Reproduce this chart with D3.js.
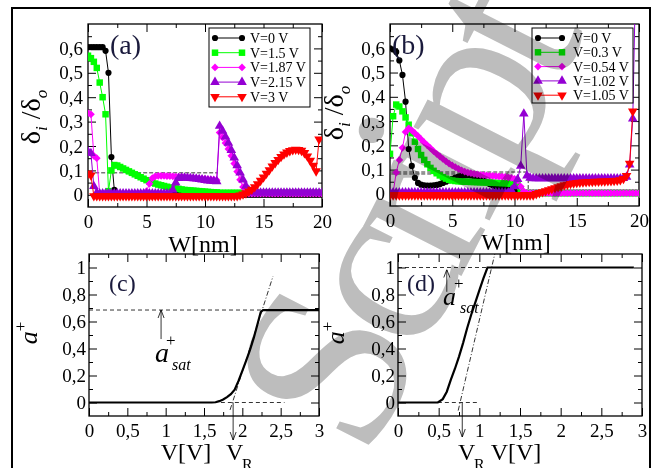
<!DOCTYPE html>
<html>
<head>
<meta charset="UTF-8">
<script src="https://d3js.org/d3.v7.min.js"></script>
<style>
  body { margin: 0; background: #fff; }
  svg text { font-family: "Liberation Serif", "Times New Roman", serif; fill: #000; }
</style>
</head>
<body>
<svg></svg>
<script>
// ---- data ----
// W grid (nm) for panels (a) and (b)
const wGrid = [0,0.25,0.5,0.75,1,1.25,1.5,1.75,2,2.25,2.5,2.75,3,3.25,3.5,3.75,4,4.25,4.5,4.75,
  5,5.25,5.5,5.75,6,6.25,6.5,6.75,7,7.25,7.5,7.75,8,8.25,8.5,8.75,9,9.25,9.5,9.75,
  10,10.25,10.5,10.75,11,11.25,11.5,11.75,12,12.25,12.5,12.75,13,13.25,13.5,13.75,14,14.25,14.5,14.75,
  15,15.25,15.5,15.75,16,16.25,16.5,16.75,17,17.25,17.5,17.75,18,18.25,18.5,18.75,19,19.25,19.5,19.75,20];

// panel (a): delta_i/delta_o
const aV0 = [0.605,0.605,0.605,0.605,0.605,0.605,0.59,0.5,0.155,0.02,
  0,0,0,0,0,0,0,0,0,0, 0,0,0,0,0,0,0,0,0,0, 0,0,0,0,0,0,0,0,0,0,
  0,0,0,0,0,0,0,0,0,0, 0,0,0,0,0,0,0,0,0,0, 0,0,0,0,0,0,0,0,0,0,
  0,0,0,0,0,0,0,0,0,0, 0];
const aV15 = [0.57,0.56,0.545,0.52,0.46,0.4,0.33,0.015,0.1,0.122,
  0.12,0.114,0.108,0.102,0.096,0.09,0.084,0.078,0.072,0.066,
  0.06,0.055,0.05,0.046,0.042,0.039,0.036,0.033,0.03,0.028,
  0.026,0.024,0.022,0.02,0.019,0.018,0.017,0.016,0.015,0.014,
  0.013,0.012,0.011,0.01,0.01,0.008,0.008,0.008,0.008,0.008,
  0.008,0.008,0.008,0.008,0.008,0.008,0.008,0.008,0.008,0.008,
  0.008,0.008,0.008,0.008,0.008,0.008,0.008,0.008,0.008,0.008,
  0.008,0.008,0.008,0.008,0.008,0.008,0.008,0.008,0.008,0.008, 0.008];
const aV187 = [0.335,0.33,0.16,0.15,0.005,0.003,0.003,0.003,0.003,0.003,
  0.003,0.003,0.003,0.003,0.003,0.003,0.003,0.003,0.003,0.003,
  0.015,0.045,0.068,0.076,0.078,0.078,0.078,0.077,0.077,0.076,
  0.075,0.074,0.073,0.072,0.071,0.07,0.069,0.068,0.067,0.066,
  0.065,0.064,0.063,0.062,0.06,0.255,0.235,0.212,0.188,0.16,
  0.128,0.095,0.062,0.032,0.012,0.005,0.005,0.005,0.005,0.005,
  0.005,0.005,0.005,0.005,0.005,0.005,0.005,0.005,0.005,0.005,
  0.005,0.005,0.005,0.005,0.005,0.005,0.005,0.005,0.005,0.005, 0.005];
const aV215 = [0.177,0.17,0.035,0.008,0.005,0.005,0.005,0.005,0.005,0.005,
  0.005,0.005,0.005,0.005,0.005,0.005,0.005,0.005,0.005,0.005,
  0.005,0.005,0.005,0.005,0.005,0.005,0.005,0.005,0.005,0.02,
  0.05,0.068,0.07,0.07,0.069,0.068,0.067,0.066,0.064,0.062,
  0.06,0.058,0.057,0.056,0.055,0.282,0.262,0.238,0.212,0.183,
  0.152,0.12,0.09,0.062,0.036,0.018,0.01,0.008,0.008,0.008,
  0.008,0.008,0.008,0.008,0.008,0.008,0.008,0.008,0.008,0.008,
  0.008,0.008,0.008,0.008,0.008,0.008,0.008,0.008,0.008,0.008, 0.008];
const aV3 = [0.088,0.08,-0.005,-0.005,-0.005,-0.005,-0.005,-0.005,-0.005,-0.005,
  -0.005,-0.005,-0.005,-0.005,-0.005,-0.005,-0.005,-0.005,-0.005,-0.005,
  -0.005,-0.005,-0.005,-0.005,-0.005,-0.005,-0.005,-0.005,-0.005,-0.005,
  -0.005,-0.005,-0.005,-0.005,-0.005,-0.005,-0.005,-0.005,-0.005,-0.005,
  -0.005,-0.005,-0.005,-0.005,-0.005,-0.005,-0.005,-0.005,-0.005,-0.005,
  -0.005,-0.005,-0.002,0.002,0.007,0.014,0.022,0.032,0.044,0.058,
  0.072,0.087,0.102,0.117,0.131,0.144,0.156,0.166,0.174,0.18,
  0.184,0.186,0.185,0.181,0.172,0.158,0.14,0.12,0.097,0.228];

// panel (b)
const bV0 = [0.6,0.595,0.585,0.55,0.49,0.38,0.185,0.115,0.066,0.045,
  0.038,0.035,0.034,0.034,0.035,0.037,0.04,0.045,0.05,0.056,
  0.062,0.067,0.071,0.074,0.076,0.077,0.076,0.073,0.068,0.062,
  0.055,0.048,0.041,0.035,0.03,0.027,0.025,0.023,0.021,0.017,
  0.012,0.005,0.005,0.005,0.005,0.005,0.005,0.005,0.005,0.005,
  0.005,0.005,0.005,0.005,0.005,0.005,0.005,0.005,0.005,0.005,
  0.005,0.005,0.005,0.005,0.005,0.005,0.005,0.005,0.005,0.005,
  0.005,0.005,0.005,0.005,0.005,0.005,0.005,0.005,0.005,0.005, 0.005];
const bV03 = [0.165,0.32,0.368,0.36,0.34,0.315,0.285,0.25,0.215,0.185,
  0.16,0.14,0.122,0.107,0.095,0.085,0.076,0.069,0.063,0.058,
  0.055,0.053,0.052,0.051,0.05,0.05,0.049,0.049,0.048,0.048,
  0.047,0.047,0.046,0.046,0.045,0.045,0.044,0.044,0.043,0.042,
  0.04,0.035,0.015,0.003,0.003,0.003,0.003,0.003,0.003,0.003,
  0.003,0.003,0.003,0.003,0.003,0.003,0.003,0.003,0.003,0.003,
  0.003,0.003,0.003,0.003,0.003,0.003,0.003,0.003,0.003,0.003,
  0.003,0.003,0.003,0.003,0.003,0.003,0.003,0.003,0.003,0.003, 0.003];
const bV054 = [0.005,0.005,0.088,0.14,0.19,0.255,0.27,0.262,0.25,0.238,
  0.225,0.212,0.2,0.188,0.176,0.165,0.154,0.144,0.134,0.125,
  0.117,0.11,0.103,0.097,0.092,0.088,0.085,0.082,0.08,0.078,
  0.077,0.076,0.075,0.074,0.073,0.072,0.071,0.07,0.068,0.066,
  0.062,0.055,0.03,0.01,0.003,0.003,0.003,0.003,0.003,0.003,
  0.003,0.003,0.003,0.003,0.003,0.003,0.003,0.003,0.003,0.003,
  0.003,0.003,0.003,0.003,0.003,0.003,0.003,0.003,0.003,0.003,
  0.003,0.003,0.003,0.003,0.003,0.003,0.003,0.003,0.003,0.003, 0.003];
const bV102 = [0.005,0.005,0.005,0.005,0.005,0.005,0.005,0.005,0.005,0.005,
  0.005,0.005,0.005,0.005,0.005,0.005,0.005,0.005,0.005,0.005,
  0.005,0.005,0.005,0.005,0.005,0.005,0.005,0.005,0.005,0.005,
  0.005,0.005,0.005,0.005,0.005,0.005,0.005,0.005,0.005,0.015,
  0.03,0.06,0.115,0.33,0.075,0.066,0.063,0.063,0.063,0.063,
  0.063,0.063,0.063,0.063,0.063,0.063,0.063,0.063,0.063,0.063,
  0.063,0.063,0.063,0.063,0.063,0.063,0.063,0.063,0.063,0.063,
  0.063,0.063,0.063,0.063,0.063,0.064,0.07,0.12,0.31,0.95];
const bV105 = [-0.005,-0.005,-0.005,-0.005,-0.005,-0.005,-0.005,-0.005,-0.005,-0.005,
  -0.005,-0.005,-0.005,-0.005,-0.005,-0.005,-0.005,-0.005,-0.005,-0.005,
  -0.005,-0.005,-0.005,-0.005,-0.005,-0.005,-0.005,-0.005,-0.005,-0.005,
  -0.005,-0.005,-0.005,-0.005,-0.005,-0.005,-0.005,-0.005,-0.005,-0.005,
  -0.005,-0.005,-0.005,-0.005,-0.005,-0.005,-0.005,0,0.004,0.008,
  0.012,0.016,0.02,0.024,0.028,0.032,0.036,0.039,0.042,0.044,
  0.046,0.047,0.048,0.049,0.05,0.05,0.051,0.051,0.052,0.052,
  0.053,0.053,0.054,0.055,0.057,0.062,0.075,0.125,0.34];

const aLabels = ["V=0 V", "V=1.5 V", "V=1.87 V", "V=2.15 V", "V=3 V"];
const bLabels = ["V=0 V", "V=0.3 V", "V=0.54 V", "V=1.02 V", "V=1.05 V"];
const colors = ["#000000", "#00ff00", "#ff00ff", "#9400d3", "#ff0000"];
const shapes = ["circle", "square", "diamond", "up", "down"];

// panels (c) and (d): a+ versus V
const cV = [0, 0.5, 1, 1.5, 1.6, 1.65, 1.7, 1.75, 1.8, 1.85, 1.9, 1.95, 2, 2.05, 2.1, 2.15, 2.2, 2.24, 2.27, 2.5, 3];
const cA = [0, 0, 0, 0, 0, 0.002, 0.01, 0.022, 0.04, 0.062, 0.095, 0.16, 0.235, 0.31, 0.39, 0.48, 0.585, 0.67, 0.685, 0.685, 0.685];
const dV = [0, 0.3, 0.49, 0.55, 0.6, 0.65, 0.7, 0.75, 0.8, 0.85, 0.9, 0.95, 1, 1.05, 1.1, 1.5, 2, 2.5, 2.9];
const dA = [0, 0, 0, 0.025, 0.08, 0.17, 0.25, 0.34, 0.44, 0.55, 0.65, 0.74, 0.83, 0.92, 1, 1, 1, 1, 1];
const cSat = 0.685, dSat = 1, cVR = 1.88, dVR = 0.79;

const xTicksW = [0, 5, 10, 15, 20], xMinorW = [2.5, 7.5, 12.5, 17.5];
const yTicksD = [0, 0.1, 0.2, 0.3, 0.4, 0.5, 0.6], yMinorD = [0.05, 0.15, 0.25, 0.35, 0.45, 0.55, 0.65];
const xTicksV = [0, 0.5, 1, 1.5, 2, 2.5, 3], xMinorV = [0.25, 0.75, 1.25, 1.75, 2.25, 2.75];
const yTicksA = [0, 0.2, 0.4, 0.6, 0.8, 1], yMinorA = [0.1, 0.3, 0.5, 0.7, 0.9];

// ---- drawing ----
const svg = d3.select("svg").attr("width", 652).attr("height", 468).style("display", "block");
const defs = svg.append("defs");
defs.append("marker").attr("id", "arr").attr("viewBox", "0 -4 8 8")
  .attr("refX", 8).attr("refY", 0).attr("markerWidth", 8).attr("markerHeight", 8)
  .attr("markerUnits", "userSpaceOnUse").attr("orient", "auto")
  .append("path").attr("d", "M0,-3L8,0L0,3").attr("fill", "none").attr("stroke", "#000").attr("stroke-width", 0.8);

// outer border
svg.append("rect").attr("x", 12).attr("y", 8).attr("width", 638).attr("height", 480)
  .attr("fill", "none").attr("stroke", "#000").attr("stroke-width", 2);

const fmt = d => String(+d.toFixed(2)).replace(".", ",");

function axes(x, y, xt, xm, yt, ym, padX, padY) {
  const g = svg.append("g");
  const [x0, x1] = x.range(), [y0, y1] = y.range();
  const put = (ax, tr) => g.append("g").attr("transform", tr).call(ax)
    .attr("font-size", 19).attr("font-family", "Liberation Serif");
  put(d3.axisBottom(x).tickValues(xt).tickSizeInner(-8).tickSizeOuter(0).tickPadding(padX).tickFormat(fmt), `translate(0,${y0})`);
  put(d3.axisBottom(x).tickValues(xm).tickSizeInner(-4).tickSizeOuter(0).tickFormat(""), `translate(0,${y0})`);
  put(d3.axisTop(x).tickValues(xt).tickSizeInner(-8).tickSizeOuter(0).tickFormat(""), `translate(0,${y1})`);
  put(d3.axisTop(x).tickValues(xm).tickSizeInner(-4).tickSizeOuter(0).tickFormat(""), `translate(0,${y1})`);
  put(d3.axisLeft(y).tickValues(yt).tickSizeInner(-8).tickSizeOuter(0).tickPadding(padY).tickFormat(fmt), `translate(${x0},0)`);
  put(d3.axisLeft(y).tickValues(ym).tickSizeInner(-4).tickSizeOuter(0).tickFormat(""), `translate(${x0},0)`);
  put(d3.axisRight(y).tickValues(yt).tickSizeInner(-8).tickSizeOuter(0).tickFormat(""), `translate(${x1},0)`);
  put(d3.axisRight(y).tickValues(ym).tickSizeInner(-4).tickSizeOuter(0).tickFormat(""), `translate(${x1},0)`);
  g.selectAll(".domain").remove();
  g.append("rect").attr("x", x0).attr("y", y1).attr("width", x1 - x0).attr("height", y0 - y1)
    .attr("fill", "none").attr("stroke", "#000").attr("stroke-width", 1.3);
  return g;
}

function symPath(shape) {
  if (shape === "circle") return d3.symbol().type(d3.symbolCircle).size(30)();
  if (shape === "square") return d3.symbol().type(d3.symbolSquare).size(42)();
  if (shape === "diamond") return d3.symbol().type(d3.symbolSquare).size(30)();
  return d3.symbol().type(d3.symbolTriangle).size(40)();
}
function symRot(shape) {
  return shape === "diamond" ? 45 : shape === "down" ? 180 : 0;
}

function deltaPanel(id, x, y, series, labels, leg) {
  const [x0, x1] = x.range(), [y0, y1] = y.range();
  defs.append("clipPath").attr("id", id).append("rect")
    .attr("x", x0).attr("y", y1).attr("width", x1 - x0).attr("height", y0 - y1);
  const g = svg.append("g").attr("clip-path", `url(#${id})`);
  const line = d3.line().x((d, i) => x(wGrid[i])).y(d => y(d));
  series.forEach((vals, k) => {
    g.append("path").attr("d", line(vals)).attr("fill", "none")
      .attr("stroke", colors[k]).attr("stroke-width", 1);
    g.append("g").selectAll("path").data(vals).join("path")
      .attr("d", symPath(shapes[k]))
      .attr("transform", (d, i) => `translate(${x(wGrid[i])},${y(d)}) rotate(${symRot(shapes[k])})`)
      .attr("fill", colors[k]);
  });
  // legend
  const lg = svg.append("g");
  lg.append("rect").attr("x", leg.x).attr("y", leg.y).attr("width", leg.w).attr("height", leg.h)
    .attr("fill", "#fff").attr("stroke", "#000").attr("stroke-width", 1);
  labels.forEach((t, k) => {
    const ry = leg.y + 10 + k * leg.dy;
    lg.append("line").attr("x1", leg.lx0).attr("x2", leg.lx1).attr("y1", ry).attr("y2", ry)
      .attr("stroke", colors[k]).attr("stroke-width", 1);
    [leg.lx0, leg.lx1].forEach(px => lg.append("path").attr("d", symPath(shapes[k]))
      .attr("transform", `translate(${px},${ry}) rotate(${symRot(shapes[k])})`).attr("fill", colors[k]));
    lg.append("text").attr("x", leg.tx).attr("y", ry + 5).attr("font-size", 14).text(t);
  });
}

function dash(x, y, pts, dasharray) {
  svg.append("path").attr("d", d3.line().x(d => x(d[0])).y(d => y(d[1]))(pts))
    .attr("fill", "none").attr("stroke", "#000").attr("stroke-width", 0.8)
    .attr("stroke-dasharray", dasharray);
}

// (a)
const xa = d3.scaleLinear().domain([0, 20]).range([88, 322]);
const ya = d3.scaleLinear().domain([-0.05, 0.7]).range([207, 24]);
axes(xa, ya, xTicksW, xMinorW, yTicksD, yMinorD, 8, 5);
dash(xa, ya, [[0.1, 0.09], [11.1, 0.09]], "4,2");
dash(xa, ya, [[11.1, 0.006], [20, 0.006]], "2,2");
deltaPanel("clipA", xa, ya, [aV0, aV15, aV187, aV215, aV3], aLabels,
  {x: 209, y: 28, w: 101, h: 79, dy: 14.7, lx0: 215, lx1: 242, tx: 250});

// (b)
const xb = d3.scaleLinear().domain([0, 20]).range([390, 639]);
const yb = d3.scaleLinear().domain([-0.05, 0.7]).range([206, 24]);
axes(xb, yb, xTicksW, xMinorW, yTicksD, yMinorD, 8, 5);
dash(xb, yb, [[0.1, 0.09], [11.1, 0.09], [11.1, 0.008], [20, 0.008]], "4,2");
dash(xb, yb, [[0.1, 0.082], [9.5, 0.082]], "4,2");
deltaPanel("clipB", xb, yb, [bV0, bV03, bV054, bV102, bV105], bLabels,
  {x: 532, y: 28, w: 101, h: 75, dy: 14.3, lx0: 538, lx1: 562, tx: 573});

// (c)
const xc = d3.scaleLinear().domain([0, 3]).range([89, 319]);
const yc = d3.scaleLinear().domain([-0.1, 1.1]).range([416, 254]);
axes(xc, yc, xTicksV, xMinorV, yTicksA, yMinorA, 8, 3);
dash(xc, yc, [[0, cSat], [3, cSat]], "4,3");
dash(xc, yc, [[1.72, 0], [2.55, 0]], "4,3");
dash(xc, yc, [[1.84, -0.055], [2.4, 0.935]], "5,2,1,2");
svg.append("path").attr("d", d3.line().x((d, i) => xc(cV[i])).y(d => yc(d))(cA))
  .attr("fill", "none").attr("stroke", "#000").attr("stroke-width", 2.2);

// (d)
const xd = d3.scaleLinear().domain([0, 3]).range([398, 642]);
const yd = d3.scaleLinear().domain([-0.1, 1.1]).range([416, 254]);
axes(xd, yd, xTicksV, xMinorV, yTicksA, yMinorA, 8, 3);
dash(xd, yd, [[0, dSat], [1.1, dSat]], "4,3");
dash(xd, yd, [[0.49, 0], [0.97, 0]], "4,3");
dash(xd, yd, [[0.74, -0.06], [1.19, 1.1]], "5,2,1,2");
svg.append("path").attr("d", d3.line().x((d, i) => xd(dV[i])).y(d => yd(d))(dA))
  .attr("fill", "none").attr("stroke", "#000").attr("stroke-width", 2.2);

// arrows
function arrow(x1, y1, x2, y2) {
  svg.append("line").attr("x1", x1).attr("y1", y1).attr("x2", x2).attr("y2", y2)
    .attr("stroke", "#000").attr("stroke-width", 0.8).attr("marker-end", "url(#arr)");
}
arrow(xc(0.94), yc(0.47), xc(0.94), yc(cSat));
arrow(xc(cVR), yc(0), xc(cVR), 440);
arrow(xd(0.6), yd(0.82), xd(0.6), yd(0.985));
arrow(xd(dVR), yd(0), xd(dVR), 437);

// ---- text ----
function txt(x, y, s, size, opts = {}) {
  const t = svg.append("text").attr("x", x).attr("y", y).attr("font-size", size).text(s);
  if (opts.anchor) t.attr("text-anchor", opts.anchor);
  if (opts.italic) t.attr("font-style", "italic");
  if (opts.fill) t.style("fill", opts.fill);
  return t;
}
const panelCol = "#1a1a3c";
txt(110, 54, "(a)", 28, {fill: panelCol});
txt(392, 54, "(b)", 28, {fill: panelCol});
txt(109, 291, "(c)", 24, {fill: panelCol});
txt(407, 291, "(d)", 24, {fill: panelCol});
txt(203, 252, "W[nm]", 24, {anchor: "middle"});
txt(516, 250, "W[nm]", 24, {anchor: "middle"});
txt(186, 460, "V[V]", 24, {anchor: "middle"});
txt(516, 460, "V[V]", 24, {anchor: "middle"});

function deltaLabel(cx, cy) {
  const t = svg.append("text").attr("transform", `translate(${cx},${cy}) rotate(-90)`)
    .attr("text-anchor", "middle").attr("font-size", 28);
  t.append("tspan").text("δ");
  t.append("tspan").attr("font-size", 17).attr("font-style", "italic").attr("dy", 7).text("i");
  t.append("tspan").attr("dy", -7).text(" /δ");
  t.append("tspan").attr("font-size", 17).attr("font-style", "italic").attr("dy", 7).text("o");
}
deltaLabel(40, 117);
deltaLabel(343, 113);

function aLabel(cx, cy) {
  const t = svg.append("text").attr("transform", `translate(${cx},${cy}) rotate(-90)`)
    .attr("text-anchor", "middle").attr("font-size", 26);
  t.append("tspan").attr("font-style", "italic").text("a");
  t.append("tspan").attr("font-size", 17).attr("dy", -11).text("+");
}
aLabel(37, 333);
aLabel(344, 333);

function satLabel(x, y, big) {
  txt(x, y, "a", big, {italic: true});
  txt(x + 11, y - 16, "+", 17);
  txt(x + 17, y + 8, "sat", 16, {italic: true});
}
satLabel(155, 362, 28);
satLabel(443, 305, 26);

function vrLabel(x, y) {
  txt(x, y, "V", 24);
  txt(x + 16, y + 10, "R", 16);
}
vrLabel(226, 460);
vrLabel(458, 460);

// watermark
svg.append("text").attr("transform", "translate(408,222) rotate(-63)")
  .attr("text-anchor", "middle").attr("dy", "0.3em")
  .attr("font-size", 240).attr("letter-spacing", -18)
  .style("fill", "#bdbdbd").style("mix-blend-mode", "multiply")
  .text("Script");
</script>
</body>
</html>
